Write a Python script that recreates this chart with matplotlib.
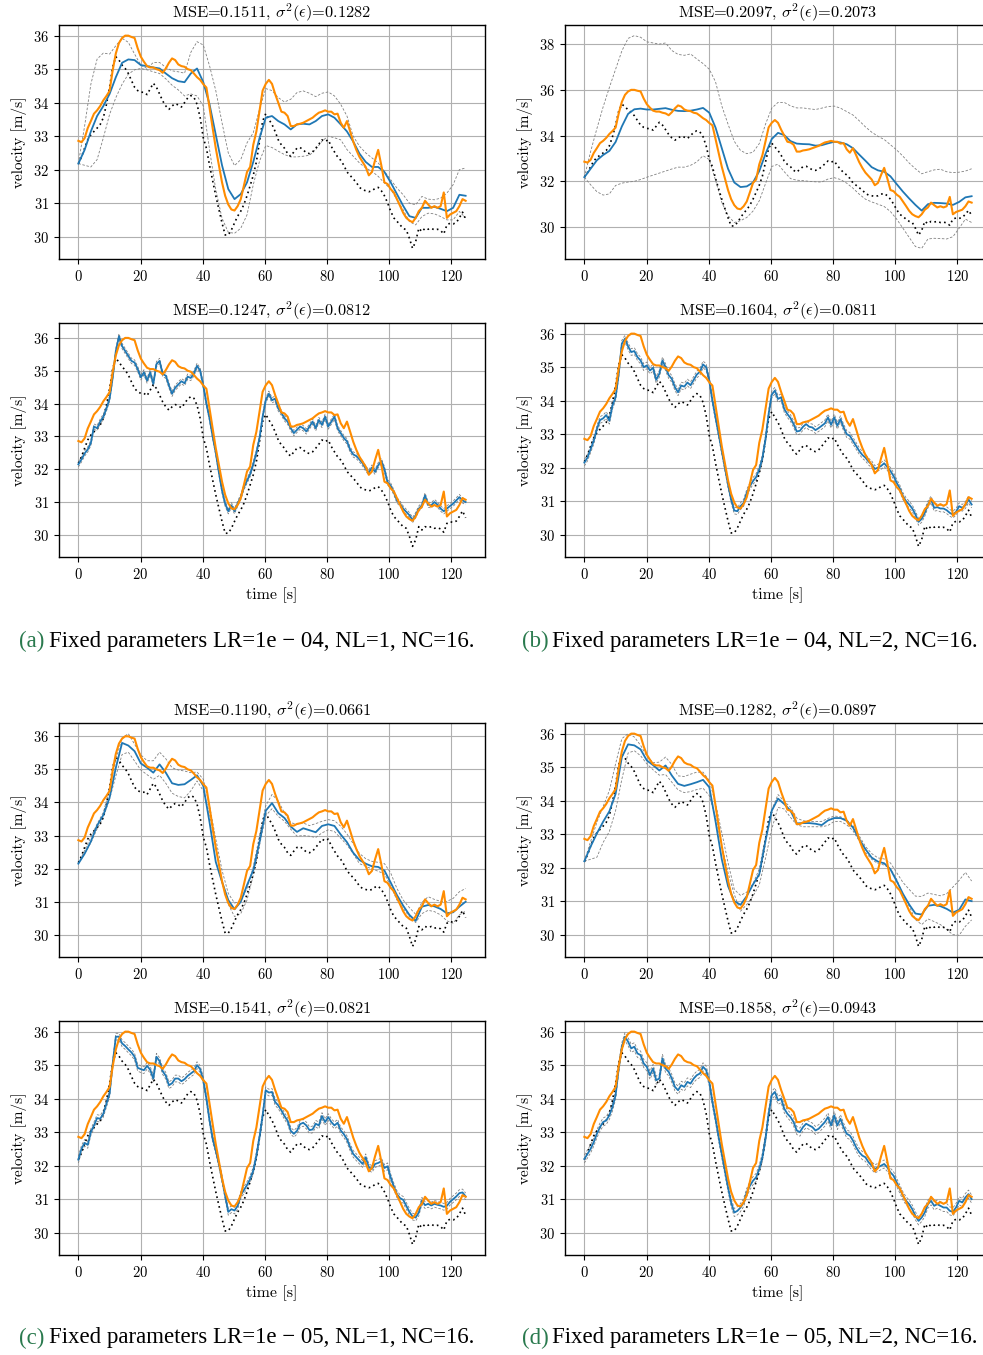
import numpy as np
import matplotlib.pyplot as plt

plt.rcParams["font.family"] = "cmr10"
plt.rcParams["mathtext.fontset"] = "cm"
plt.rcParams["axes.formatter.use_mathtext"] = True

# sampling: 1 s grid, smooth model outputs use every second sample
time = np.linspace(0, 124.6, 125)
time_coarse = time[::2]

# measured speed (orange) and reference (black dotted), shared by all panels
v_meas = np.array([
    32.86, 32.82, 32.94, 33.24, 33.45, 33.67, 33.77, 33.90, 34.07, 34.20,
    34.35, 34.97, 35.47, 35.78, 35.93, 36.00, 36.00, 35.96, 35.93, 35.62,
    35.37, 35.22, 35.09, 35.05, 35.05, 35.00, 34.97, 34.89, 35.02, 35.19,
    35.32, 35.27, 35.14, 35.09, 35.07, 35.00, 34.97, 34.87, 34.76, 34.68,
    34.55, 34.45, 33.85, 33.24, 32.64, 32.13, 31.62, 31.22, 30.96, 30.81,
    30.78, 30.91, 31.12, 31.52, 31.93, 32.08, 32.74, 33.14, 33.75, 34.36,
    34.56, 34.68, 34.56, 34.26, 34.00, 33.73, 33.70, 33.60, 33.30, 33.30,
    33.35, 33.37, 33.40, 33.45, 33.50, 33.55, 33.63, 33.70, 33.73, 33.77,
    33.73, 33.73, 33.65, 33.67, 33.40, 33.25, 33.45, 33.15, 32.84, 32.59,
    32.38, 32.23, 32.08, 31.83, 31.93, 32.28, 32.59, 32.13, 31.62, 31.57,
    31.42, 31.32, 31.12, 30.92, 30.71, 30.56, 30.48, 30.43, 30.56, 30.76,
    30.86, 31.07, 30.96, 30.86, 30.91, 30.86, 30.91, 31.32, 30.56, 30.66,
    30.71, 30.76, 30.91, 31.12, 31.07,
])
v_ref = np.array([
    32.18, 32.38, 32.64, 32.89, 33.04, 33.14, 33.24, 33.35, 33.55, 33.95,
    34.46, 35.07, 35.37, 35.27, 35.12, 35.02, 34.87, 34.66, 34.46, 34.36,
    34.31, 34.31, 34.24, 34.41, 34.58, 34.46, 34.26, 34.05, 33.90, 33.80,
    33.90, 33.97, 33.93, 33.87, 34.00, 34.14, 34.21, 34.16, 33.95, 33.55,
    32.95, 32.64, 32.13, 31.67, 31.22, 30.81, 30.41, 30.05, 30.05, 30.20,
    30.41, 30.61, 30.76, 30.96, 31.22, 31.52, 31.83, 32.23, 32.84, 33.45,
    33.67, 33.50, 33.35, 33.14, 32.89, 32.74, 32.64, 32.48, 32.40, 32.53,
    32.64, 32.66, 32.59, 32.50, 32.48, 32.53, 32.64, 32.76, 32.89, 32.84,
    32.89, 32.69, 32.53, 32.38, 32.28, 32.13, 31.93, 31.83, 31.72, 31.62,
    31.47, 31.40, 31.37, 31.34, 31.37, 31.44, 31.47, 31.37, 31.22, 31.01,
    30.76, 30.56, 30.46, 30.35, 30.25, 30.20, 29.95, 29.65, 29.85, 30.25,
    30.15, 30.25, 30.22, 30.25, 30.20, 30.22, 30.18, 30.08, 30.35, 30.40,
    30.38, 30.42, 30.56, 30.73, 30.52,
])

# (a) top: smooth prediction with band
mean_a1 = np.array([
    32.18, 32.59, 33.14, 33.60, 33.90, 34.26, 34.76, 35.19, 35.29, 35.27,
    35.12, 35.09, 35.05, 35.02, 34.87, 34.73, 34.64, 34.61, 34.87, 35.02,
    34.61, 33.95, 33.04, 32.13, 31.42, 31.12, 31.27, 31.62, 32.23, 32.94,
    33.55, 33.60, 33.45, 33.35, 33.20, 33.35, 33.37, 33.35, 33.45, 33.60,
    33.65, 33.55, 33.35, 33.14, 32.84, 32.48, 32.23, 32.08, 32.08, 31.93,
    31.62, 31.27, 30.92, 30.61, 30.56, 30.86, 30.86, 30.89, 30.83, 30.76,
    30.86, 31.25, 31.22,
])
upper_a1 = np.array([
    32.18, 33.30, 34.55, 35.30, 35.48, 35.45, 35.70, 35.92, 35.80, 35.45,
    35.12, 35.02, 35.20, 35.20, 35.05, 34.95, 34.92, 34.88, 35.50, 35.82,
    35.72, 35.10, 34.36, 33.40, 32.50, 32.12, 32.30, 32.80, 33.10, 33.80,
    34.42, 34.36, 34.15, 34.02, 34.10, 34.30, 34.35, 34.28, 34.18, 34.28,
    34.32, 34.20, 33.95, 33.60, 33.00, 32.70, 32.50, 32.35, 32.20, 31.95,
    31.70, 31.45, 31.25, 31.00, 30.95, 31.20, 31.12, 31.10, 31.15, 31.30,
    31.55, 32.00, 32.05,
])
lower_a1 = np.array([
    32.18, 32.13, 32.08, 32.30, 32.95, 33.65, 34.15, 34.55, 34.85, 34.98,
    35.02, 34.98, 34.92, 34.87, 34.71, 34.52, 34.38, 34.20, 34.26, 34.20,
    33.90, 32.60, 31.40, 30.55, 30.13, 30.10, 30.25, 30.65, 31.55, 32.25,
    32.72, 32.66, 32.55, 32.45, 32.38, 32.38, 32.40, 32.43, 32.60, 32.85,
    33.00, 32.95, 32.89, 32.60, 32.40, 32.20, 32.05, 31.95, 31.80, 31.60,
    31.42, 31.10, 30.80, 30.45, 30.35, 30.60, 30.70, 30.68, 30.60, 30.50,
    30.50, 30.75, 30.56,
])

# (b) top
mean_b1 = np.array([
    32.18, 32.55, 32.92, 33.15, 33.33, 33.72, 34.40, 34.95, 35.15, 35.18,
    35.14, 35.14, 35.17, 35.20, 35.13, 35.08, 35.07, 35.09, 35.14, 35.21,
    35.00, 34.35, 33.45, 32.55, 31.95, 31.75, 31.78, 31.95, 32.45, 33.20,
    33.85, 34.12, 34.02, 33.76, 33.65, 33.63, 33.62, 33.56, 33.58, 33.66,
    33.73, 33.70, 33.62, 33.45, 33.17, 32.90, 32.62, 32.48, 32.42, 32.22,
    31.88, 31.55, 31.25, 30.97, 30.72, 31.00, 31.06, 31.05, 31.03, 30.97,
    31.10, 31.30, 31.35,
])
upper_b1 = np.array([
    32.18, 33.30, 34.30, 35.25, 36.10, 36.90, 37.70, 38.25, 38.37, 38.30,
    38.10, 38.05, 38.00, 38.05, 37.72, 37.55, 37.51, 37.57, 37.35, 37.15,
    36.90, 36.35, 35.30, 34.50, 33.75, 33.35, 33.21, 33.27, 33.65, 34.50,
    35.20, 35.45, 35.45, 35.30, 35.21, 35.21, 35.17, 35.14, 35.20, 35.27,
    35.29, 35.20, 35.05, 34.90, 34.65, 34.38, 34.15, 33.97, 33.83, 33.60,
    33.37, 33.10, 32.80, 32.55, 32.33, 32.42, 32.50, 32.53, 32.42, 32.38,
    32.40, 32.45, 32.55,
])
lower_b1 = np.array([
    32.18, 31.85, 31.55, 31.40, 31.45, 31.82, 31.92, 31.97, 32.00, 32.08,
    32.18, 32.27, 32.36, 32.45, 32.54, 32.62, 32.62, 32.70, 32.85, 33.12,
    32.95, 32.05, 31.08, 30.50, 30.20, 30.28, 30.42, 30.70, 31.15, 31.90,
    32.65, 32.75, 32.42, 32.12, 32.05, 32.03, 32.00, 31.98, 31.97, 32.10,
    32.16, 32.08, 31.92, 31.70, 31.44, 31.22, 31.10, 31.00, 30.90, 30.68,
    30.35, 29.95, 29.55, 29.15, 29.07, 29.48, 29.51, 29.50, 29.48, 29.58,
    29.95, 30.35, 30.20,
])

# (c) top
mean_c1 = np.array([
    32.15, 32.45, 32.82, 33.30, 33.62, 34.15, 35.05, 35.80, 35.72, 35.55,
    35.18, 35.05, 34.90, 35.15, 34.90, 34.58, 34.53, 34.55, 34.68, 34.82,
    34.50, 33.40, 32.20, 31.60, 31.05, 30.77, 31.00, 31.50, 31.95, 32.80,
    33.75, 33.98, 33.68, 33.53, 33.27, 33.11, 33.22, 33.16, 33.10, 33.29,
    33.34, 33.29, 33.03, 32.80, 32.48, 32.26, 32.15, 32.07, 32.05, 31.94,
    31.58, 31.20, 30.88, 30.60, 30.42, 30.85, 30.90, 30.86, 30.78, 30.65,
    30.68, 30.85, 31.00,
])
upper_c1 = np.array([
    32.15, 32.55, 32.95, 33.35, 33.70, 34.40, 35.30, 35.95, 36.08, 35.76,
    35.44, 35.26, 35.26, 35.52, 35.32, 35.05, 34.98, 34.95, 34.90, 34.92,
    34.70, 33.90, 32.90, 31.95, 31.25, 30.96, 31.01, 31.40, 32.05, 33.00,
    33.90, 34.24, 34.05, 33.68, 33.39, 33.34, 33.38, 33.30, 33.36, 33.43,
    33.48, 33.45, 33.28, 33.05, 32.75, 32.46, 32.30, 32.22, 32.19, 32.15,
    31.87, 31.40, 31.05, 30.82, 30.62, 30.98, 31.15, 31.07, 31.01, 31.01,
    31.10, 31.30, 31.40,
])
lower_c1 = np.array([
    32.15, 32.45, 32.78, 33.20, 33.55, 34.10, 34.80, 35.45, 35.52, 35.25,
    34.98, 34.84, 34.70, 34.82, 34.58, 34.28, 34.18, 34.14, 34.35, 34.65,
    34.35, 33.65, 32.65, 31.60, 30.92, 30.55, 30.64, 31.05, 31.80, 32.70,
    33.60, 33.81, 33.58, 33.43, 33.19, 32.98, 33.00, 32.98, 32.94, 33.08,
    33.17, 33.12, 32.92, 32.72, 32.45, 32.15, 32.07, 31.99, 31.92, 31.84,
    31.47, 31.05, 30.80, 30.55, 30.37, 30.64, 30.74, 30.70, 30.60, 30.42,
    30.35, 30.60, 30.72,
])

# (d) top
mean_d1 = np.array([
    32.19, 32.63, 33.02, 33.37, 33.68, 34.20, 35.30, 35.68, 35.65, 35.53,
    35.20, 35.06, 34.90, 35.05, 34.75, 34.50, 34.44, 34.49, 34.55, 34.62,
    34.40, 33.38, 32.25, 31.45, 31.00, 30.89, 31.15, 31.50, 31.80, 32.80,
    33.70, 34.06, 33.90, 33.70, 33.32, 33.33, 33.33, 33.31, 33.27, 33.41,
    33.48, 33.48, 33.40, 33.20, 32.85, 32.55, 32.30, 32.18, 32.13, 31.95,
    31.60, 31.22, 30.90, 30.63, 30.60, 30.86, 30.89, 30.85, 30.77, 30.66,
    30.74, 31.05, 31.00,
])
upper_d1 = np.array([
    32.19, 32.78, 33.35, 33.82, 34.30, 35.10, 35.85, 36.00, 35.90, 35.65,
    35.33, 35.13, 35.15, 35.30, 35.08, 34.74, 34.72, 34.79, 34.85, 34.85,
    34.60, 33.92, 33.05, 32.15, 31.35, 31.17, 31.27, 31.52, 31.96, 32.92,
    33.72, 34.18, 33.98, 33.80, 33.48, 33.40, 33.38, 33.38, 33.38, 33.47,
    33.54, 33.52, 33.42, 33.26, 32.95, 32.63, 32.42, 32.29, 32.26, 32.14,
    31.85, 31.56, 31.35, 31.15, 31.14, 31.24, 31.20, 31.16, 31.22, 31.42,
    31.62, 31.86, 31.60,
])
lower_d1 = np.array([
    32.19, 32.25, 32.31, 32.75, 33.08, 33.70, 34.64, 35.42, 35.49, 35.34,
    35.10, 34.92, 34.76, 34.78, 34.55, 34.32, 34.24, 34.27, 34.33, 34.37,
    34.15, 33.50, 32.68, 31.85, 31.20, 30.70, 30.90, 31.15, 31.48, 32.28,
    33.15, 33.80, 33.75, 33.50, 33.28, 33.22, 33.22, 33.22, 33.22, 33.26,
    33.38, 33.38, 33.28, 33.10, 32.80, 32.45, 32.25, 32.12, 32.08, 31.97,
    31.65, 31.20, 30.85, 30.45, 30.30, 30.47, 30.39, 30.30, 30.15, 30.00,
    29.98, 30.25, 30.44,
])

# bottom panels: noisy predictions (1 s) with narrow band
mean_a2 = np.array([
    32.15, 32.30, 32.48, 32.60, 32.80, 33.30, 33.25, 33.45, 33.60, 33.85,
    34.15, 34.80, 35.60, 36.05, 35.75, 35.60, 35.45, 35.30, 35.25, 35.05,
    34.80, 34.95, 34.70, 34.95, 34.60, 35.20, 35.30, 34.90, 34.85, 34.55,
    34.30, 34.48, 34.58, 34.68, 34.62, 34.82, 34.78, 34.92, 35.15, 35.00,
    34.55, 34.00, 33.55, 33.00, 32.50, 31.90, 31.35, 30.95, 30.72, 30.90,
    30.72, 30.95, 31.15, 31.45, 31.65, 31.85, 32.15, 32.50, 32.95, 33.60,
    34.10, 34.30, 34.10, 34.15, 33.85, 33.72, 33.55, 33.45, 33.25, 33.10,
    33.20, 33.30, 33.25, 33.15, 33.30, 33.45, 33.25, 33.50, 33.35, 33.60,
    33.30, 33.45, 33.60, 33.25, 33.10, 32.95, 32.85, 32.60, 32.45, 32.40,
    32.30, 32.18, 32.02, 31.90, 32.05, 31.92, 32.12, 32.25, 32.00, 31.60,
    31.50, 31.30, 31.05, 30.95, 30.80, 30.70, 30.60, 30.45, 30.60, 30.80,
    30.90, 31.20, 30.92, 30.90, 31.00, 30.92, 30.80, 30.72, 30.80, 30.88,
    30.95, 31.05, 31.15, 31.05, 31.00,
])
mean_b2 = np.array([
    32.15, 32.30, 32.55, 32.80, 33.15, 33.42, 33.47, 33.57, 33.40, 33.85,
    34.10, 34.80, 35.70, 35.85, 35.62, 35.45, 35.48, 35.30, 35.20, 35.00,
    35.05, 34.90, 34.98, 34.62, 34.80, 35.20, 35.00, 34.76, 34.65, 34.40,
    34.25, 34.45, 34.42, 34.54, 34.46, 34.62, 34.78, 34.86, 35.08, 35.00,
    34.60, 34.00, 33.50, 33.00, 32.50, 32.00, 31.50, 31.05, 30.72, 30.70,
    30.85, 30.95, 31.25, 31.45, 31.60, 31.72, 31.95, 32.28, 32.85, 33.60,
    34.18, 34.30, 34.05, 34.10, 33.75, 33.60, 33.48, 33.30, 33.08, 33.10,
    33.22, 33.30, 33.22, 33.20, 33.12, 33.18, 33.25, 33.32, 33.50, 33.28,
    33.50, 33.25, 33.45, 33.20, 33.00, 32.95, 32.80, 32.65, 32.50, 32.38,
    32.30, 32.18, 32.10, 31.96, 32.00, 32.05, 32.13, 32.02, 31.90, 31.75,
    31.55, 31.38, 31.15, 31.00, 30.90, 30.78, 30.60, 30.38, 30.47, 30.65,
    30.90, 31.05, 30.80, 30.82, 30.78, 30.78, 30.73, 30.65, 30.60, 30.68,
    30.85, 30.80, 30.88, 31.05, 30.90,
])
mean_c2 = np.array([
    32.18, 32.50, 32.68, 32.62, 33.00, 33.20, 33.42, 33.40, 33.55, 33.85,
    34.15, 35.05, 35.85, 35.85, 35.65, 35.57, 35.47, 35.38, 35.25, 34.92,
    34.88, 34.85, 34.98, 34.86, 34.60, 35.25, 35.12, 34.82, 34.68, 34.40,
    34.46, 34.60, 34.60, 34.52, 34.58, 34.68, 34.75, 34.82, 35.00, 34.88,
    34.55, 34.00, 33.35, 32.80, 32.45, 32.05, 31.60, 31.10, 30.62, 30.70,
    30.66, 30.80, 31.12, 31.27, 31.42, 31.60, 31.85, 32.30, 32.85, 33.50,
    34.25, 34.18, 34.20, 33.90, 33.80, 33.65, 33.48, 33.34, 33.04, 32.95,
    33.04, 33.24, 33.28, 33.20, 33.06, 33.08, 33.25, 33.20, 33.48, 33.30,
    33.45, 33.30, 33.20, 33.28, 33.05, 32.94, 32.79, 32.55, 32.35, 32.25,
    32.15, 32.05, 32.25, 31.95, 31.90, 32.05, 32.08, 32.13, 31.93, 31.98,
    31.65, 31.38, 31.15, 31.03, 30.98, 30.80, 30.62, 30.48, 30.45, 30.60,
    30.95, 30.82, 30.86, 30.81, 30.86, 30.83, 30.81, 30.77, 30.80, 30.92,
    31.00, 31.08, 31.18, 31.20, 31.08,
])
mean_d2 = np.array([
    32.20, 32.35, 32.50, 32.70, 32.95, 33.15, 33.30, 33.35, 33.50, 33.75,
    34.10, 34.90, 35.55, 35.85, 35.70, 35.50, 35.55, 35.35, 35.30, 35.05,
    34.95, 34.70, 34.90, 34.55, 34.60, 35.20, 34.90, 34.80, 34.60, 34.35,
    34.25, 34.40, 34.35, 34.50, 34.45, 34.60, 34.70, 34.75, 34.95, 34.85,
    34.50, 33.90, 33.40, 32.85, 32.35, 31.85, 31.35, 30.90, 30.60, 30.65,
    30.75, 30.90, 31.20, 31.40, 31.55, 31.65, 31.90, 32.25, 32.80, 33.55,
    34.10, 34.20, 33.95, 34.00, 33.70, 33.55, 33.45, 33.30, 33.05, 33.00,
    33.15, 33.25, 33.20, 33.15, 33.05, 33.10, 33.20, 33.30, 33.45, 33.20,
    33.50, 33.20, 33.40, 33.15, 32.95, 32.90, 32.75, 32.55, 32.40, 32.30,
    32.25, 32.10, 32.00, 31.90, 31.95, 32.00, 32.05, 31.95, 31.80, 31.70,
    31.50, 31.30, 31.10, 30.95, 30.85, 30.70, 30.50, 30.35, 30.45, 30.60,
    30.85, 30.95, 30.80, 30.85, 30.80, 30.75, 30.75, 30.65, 30.62, 30.75,
    30.95, 30.90, 31.05, 31.15, 31.00,
])
spread_a2 = 0.08
spread_b2 = 0.10
spread_c2 = 0.10
spread_d2 = 0.12

titles = [
    ("0.1511", "0.1282"), ("0.2097", "0.2073"),
    ("0.1247", "0.0812"), ("0.1604", "0.0811"),
    ("0.1190", "0.0661"), ("0.1282", "0.0897"),
    ("0.1541", "0.0821"), ("0.1858", "0.0943"),
]
captions = [
    ("(a)", "Fixed parameters LR=1e \u2212 04, NL=1, NC=16."),
    ("(b)", "Fixed parameters LR=1e \u2212 04, NL=2, NC=16."),
    ("(c)", "Fixed parameters LR=1e \u2212 05, NL=1, NC=16."),
    ("(d)", "Fixed parameters LR=1e \u2212 05, NL=2, NC=16."),
]

panels = [
    (time_coarse, mean_a1, lower_a1, upper_a1),
    (time_coarse, mean_b1, lower_b1, upper_b1),
    (time, mean_a2, mean_a2 - spread_a2, mean_a2 + spread_a2),
    (time, mean_b2, mean_b2 - spread_b2, mean_b2 + spread_b2),
    (time_coarse, mean_c1, lower_c1, upper_c1),
    (time_coarse, mean_d1, lower_d1, upper_d1),
    (time, mean_c2, mean_c2 - spread_c2, mean_c2 + spread_c2),
    (time, mean_d2, mean_d2 - spread_d2, mean_d2 + spread_d2),
]

W, H = 983, 1355
fig = plt.figure(figsize=(W / 100, H / 100), dpi=100)

col_x = [59, 565]
row_y = [25, 323, 723, 1021]
ax_w, ax_h = 426, 234

for k, (t, mean, lo, hi) in enumerate(panels):
    r, c = divmod(k, 2)
    ax = fig.add_axes([col_x[c] / W, 1 - (row_y[r] + ax_h) / H, ax_w / W, ax_h / H])
    ax.plot(t, hi, color="grey", lw=0.6, ls=(0, (3, 2)))
    ax.plot(t, lo, color="grey", lw=0.6, ls=(0, (3, 2)))
    ax.plot(time, v_ref, color="black", lw=1.2, ls=(0, (1, 2)))
    ax.plot(t, mean, color="#1f77b4", lw=1.3)
    ax.plot(time, v_meas, color="#ff8c00", lw=1.5)
    ax.grid(True, color="#b0b0b0", lw=0.8)
    ax.set_axisbelow(True)
    ax.set_xticks(range(0, 121, 20))
    ax.tick_params(labelsize=10.5)
    ax.set_ylabel("velocity [m/s]", fontsize=11)
    if r in (1, 3):
        ax.set_xlabel("time [s]", fontsize=11.5)
    mse, var = titles[k]
    ax.set_title("MSE=" + mse + r", $\sigma^2(\epsilon)$=" + var, fontsize=11.8, pad=5)
    for sp in ax.spines.values():
        sp.set_linewidth(1.0)

cap_font = dict(family="Liberation Serif", fontsize=16.5, va="center")
cap_rows = [641, 1338]
cap_x = [19, 522]
for k, (tag, text) in enumerate(captions):
    r, c = divmod(k, 2)
    y = 1 - cap_rows[r] / H
    fig.text(cap_x[c] / W, y, tag, color="#2a7a4e", **cap_font)
    fig.text((cap_x[c] + 30) / W, y, text, color="black", **cap_font)

fig.savefig("out.png", dpi=100)
